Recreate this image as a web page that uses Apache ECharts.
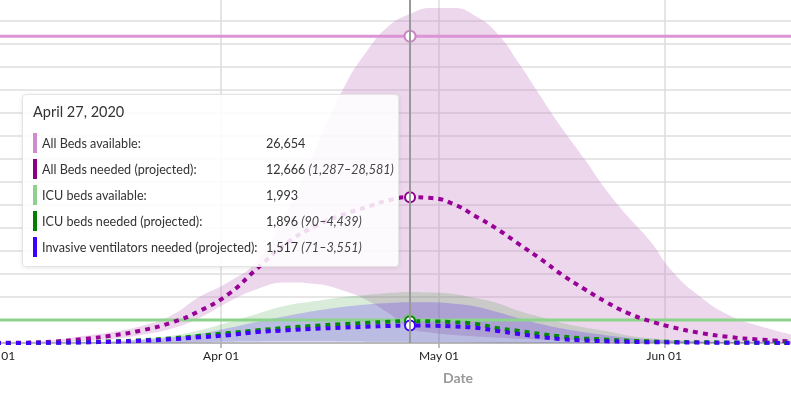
<!DOCTYPE html>
<html>
<head>
<meta charset="utf-8">
<script src="https://cdn.jsdelivr.net/npm/echarts@6/dist/echarts.min.js"></script>
<style>
  html, body { margin: 0; padding: 0; background: #fff; }
  #chart { width: 791px; height: 398px; }
</style>
</head>
<body>
<div id="chart"></div>
<script>
// sample dates (every few days)
const dates = ['2020-03-01','2020-03-05','2020-03-09','2020-03-13','2020-03-17','2020-03-21','2020-03-25','2020-03-29',
  '2020-04-02','2020-04-06','2020-04-10','2020-04-14','2020-04-18','2020-04-21','2020-04-24','2020-04-27','2020-04-30',
  '2020-05-03','2020-05-06','2020-05-09','2020-05-12','2020-05-15','2020-05-18','2020-05-21','2020-05-24','2020-05-27',
  '2020-05-30','2020-06-02','2020-06-06','2020-06-10','2020-06-14','2020-06-19'];

const bedsNeeded = [10,30,130,350,650,1090,1740,2780,4250,6500,8680,10160,11200,11800,12400,12666,12590,
  12070,11020,9900,8590,7290,5900,4690,3560,2600,1910,1390,870,520,300,130];
const bedsLow = [0,15,60,170,350,700,1220,2170,3560,4690,5250,5120,4510,3730,2600,1287,900,
  700,560,450,360,290,230,180,140,110,85,65,45,30,20,12];
const bedsHigh = [20,90,260,600,950,1480,2350,4000,5300,7200,11300,16900,22300,25300,27500,28581,29100,
  29100,28400,26900,24300,21400,18600,16000,13300,11000,8900,6300,4000,2400,1500,650];

const icuNeeded = [0,10,30,70,140,240,400,620,860,1100,1320,1500,1650,1750,1840,1896,1880,
  1800,1660,1300,1050,780,560,400,290,200,140,100,70,45,30,15];
const icuLow = [0,1,3,8,18,35,60,90,120,140,150,145,130,115,100,90,80,
  70,60,50,42,35,28,22,18,14,11,9,7,5,4,3];
const icuHigh = [0,5,20,60,150,350,600,1100,1800,2550,3250,3650,4000,4170,4340,4439,4380,
  4250,3900,3470,2780,2260,1740,1350,1040,650,430,260,140,80,45,20];

const ventNeeded = [0,8,25,55,110,190,320,490,680,950,1100,1230,1340,1410,1480,1517,1500,
  1440,1320,1050,780,520,330,220,150,100,70,50,35,22,14,8];
const ventLow = [0,1,2,6,14,28,48,72,95,110,118,114,102,90,80,71,63,
  55,47,40,33,27,22,17,14,11,9,7,5,4,3,2];
const ventHigh = [0,4,15,45,110,260,470,800,1300,1850,2350,2800,3150,3350,3480,3551,3530,
  3420,3180,2700,2150,1650,1250,930,680,460,300,220,120,65,35,15];

const availDates = ['2020-03-01', '2020-04-27', '2020-06-19'];
const bedsAvailable = [26654, 26654, 26654];
const icuAvailable = [1993, 1993, 1993];

const monthTicks = ['2020-03-01', '2020-04-01', '2020-05-01', '2020-06-01'];
const monthNames = ['January','February','March','April','May','June','July','August','September','October','November','December'];
const monthShort = ['Jan','Feb','Mar','Apr','May','Jun','Jul','Aug','Sep','Oct','Nov','Dec'];

const ts = s => new Date(s + 'T00:00:00').getTime();
// value first, date second: the first numeric column is the one ECharts stacks
const rowsOf = (xs, ys) => xs.map((d, i) => [ys[i], ts(d)]);
const diff = (hi, lo) => hi.map((v, i) => v - lo[i]);
const enc = { x: 1, y: 0 };

const C = {
  bedsAvail: '#c987c4',
  bedsNeed: '#8b008b',
  icuAvail: '#80c080',
  icuNeed: '#008000',
  vent: '#3d00ff'
};

const rows = [
  { label: 'All Beds available:', color: '#d08ccd', value: bedsAvailable, avail: true },
  { label: 'All Beds needed (projected):', color: C.bedsNeed, value: bedsNeeded, low: bedsLow, high: bedsHigh },
  { label: 'ICU beds available:', color: '#8fd08f', value: icuAvailable, avail: true },
  { label: 'ICU beds needed (projected):', color: C.icuNeed, value: icuNeeded, low: icuLow, high: icuHigh },
  { label: 'Invasive ventilators needed (projected):', color: C.vent, value: ventNeeded, low: ventLow, high: ventHigh }
];

const fmt = v => v.toLocaleString('en-US');

function band(stack, lo, hi, color) {
  const common = {
    type: 'line', stack: stack, smooth: true, showSymbol: false, symbol: 'none',
    encode: enc, silent: true, tooltip: { show: false }, lineStyle: { opacity: 0, width: 0 }
  };
  return [
    Object.assign({}, common, { data: rowsOf(dates, lo) }),
    Object.assign({}, common, { data: rowsOf(dates, diff(hi, lo)), areaStyle: { color: color, opacity: 1 } })
  ];
}

function dashed(name, values, color) {
  return {
    name: name, type: 'line', smooth: true, showSymbol: false, symbol: 'emptyCircle', symbolSize: 10,
    encode: enc,
    data: rowsOf(dates, values),
    lineStyle: { color: color, width: 4, type: [5, 5] },
    itemStyle: { color: color, borderWidth: 2 },
    emphasis: { scale: false, lineStyle: { width: 4 } }
  };
}

function solid(name, values, color) {
  return {
    name: name, type: 'line', showSymbol: false, symbol: 'emptyCircle', symbolSize: 11,
    encode: enc,
    data: rowsOf(availDates, values),
    lineStyle: { color: color, width: 3 },
    itemStyle: { color: color, borderWidth: 2 },
    emphasis: { scale: false, lineStyle: { width: 3 } }
  };
}

const chart = echarts.init(document.getElementById('chart'));

const option = {
  animation: false,
  textStyle: { fontFamily: 'Lato' },
  grid: { left: -4, right: -4, top: 0, bottom: 55, outerBoundsMode: 'none', containLabel: false },
  tooltip: {
    trigger: 'axis',
    triggerOn: 'none',
    alwaysShowContent: true,
    position: [22, 94],
    transitionDuration: 0,
    padding: [7, 10, 6, 10],
    backgroundColor: 'rgba(255,255,255,0.86)',
    borderColor: '#e4e4e4',
    borderWidth: 1,
    extraCssText: 'width:377px;box-sizing:border-box;border-radius:4px;box-shadow:0 1px 4px rgba(0,0,0,0.10);',
    axisPointer: { type: 'line', animation: false, label: { show: false }, lineStyle: { color: '#999', width: 2, type: 'solid' } },
    formatter: function (params) {
      const p = params.find(q => q.seriesName === 'All Beds needed (projected)') || params[0];
      const i = p.dataIndex;
      const d = new Date(ts(dates[i]));
      const title = monthNames[d.getMonth()] + ' ' + d.getDate() + ', ' + d.getFullYear();
      const ai = availDates.indexOf(dates[i]);
      let html = '<div style="font-family:Lato;font-size:14.5px;color:#333;line-height:20px;margin:0 0 8px 0;">' + title + '</div>';
      rows.forEach(r => {
        const v = r.avail ? r.value[ai] : r.value[i];
        let txt = fmt(v);
        if (r.low) txt += ' <i style="color:#444;">(' + fmt(r.low[i]) + '–' + fmt(r.high[i]) + ')</i>';
        html += '<div style="display:flex;align-items:center;height:26px;font-family:Lato;font-size:12.6px;color:#333;white-space:nowrap;">'
          + '<span style="display:inline-block;flex:none;width:4px;height:20px;background:' + r.color + ';margin-right:5px;"></span>'
          + '<span style="display:inline-block;flex:none;width:224px;">' + r.label + '</span>'
          + '<span style="flex:none;">' + txt + '</span></div>';
      });
      return html;
    }
  },
  xAxis: {
    type: 'value',
    min: ts('2020-03-01'),
    max: ts('2020-06-19'),
    name: 'Date',
    nameLocation: 'middle',
    nameGap: 28,
    nameTextStyle: { color: '#999', fontSize: 14, fontWeight: 'bold', padding: [0, 0, 0, 125] },
    axisLine: { lineStyle: { color: '#aaa', width: 1.5 } },
    axisTick: { show: true, length: 5, lineStyle: { color: '#aaa', width: 1.5 }, customValues: monthTicks.map(ts) },
    axisLabel: {
      customValues: monthTicks.map(ts),
      color: '#222', fontSize: 12, margin: 7,
      formatter: v => { const d = new Date(v); return monthShort[d.getMonth()] + ' ' + String(d.getDate()).padStart(2, '0'); }
    },
    splitLine: { show: true, lineStyle: { color: '#dcdcdc', width: 1.5 } }
  },
  yAxis: {
    type: 'value',
    min: 0,
    max: 29800,
    interval: 2000,
    axisLabel: { show: false },
    axisLine: { show: false },
    axisTick: { show: false },
    splitLine: { show: true, showMaxLine: false, lineStyle: { color: '#e6e6e6', width: 2 } }
  },
  series: [].concat(
    band('beds', bedsLow, bedsHigh, 'rgba(201,135,196,0.33)'),
    band('icu', icuLow, icuHigh, 'rgba(0,128,0,0.15)'),
    band('vent', ventLow, ventHigh, 'rgba(61,0,255,0.2)'),
    [
      solid('All Beds available', bedsAvailable, C.bedsAvail),
      solid('ICU beds available', icuAvailable, C.icuAvail),
      dashed('All Beds needed (projected)', bedsNeeded, C.bedsNeed),
      dashed('ICU beds needed (projected)', icuNeeded, C.icuNeed),
      dashed('Invasive ventilators needed (projected)', ventNeeded, C.vent)
    ]
  )
};

chart.setOption(option);
chart.dispatchAction({ type: 'showTip', seriesIndex: 8, dataIndex: dates.indexOf('2020-04-27') });
</script>
</body>
</html>
